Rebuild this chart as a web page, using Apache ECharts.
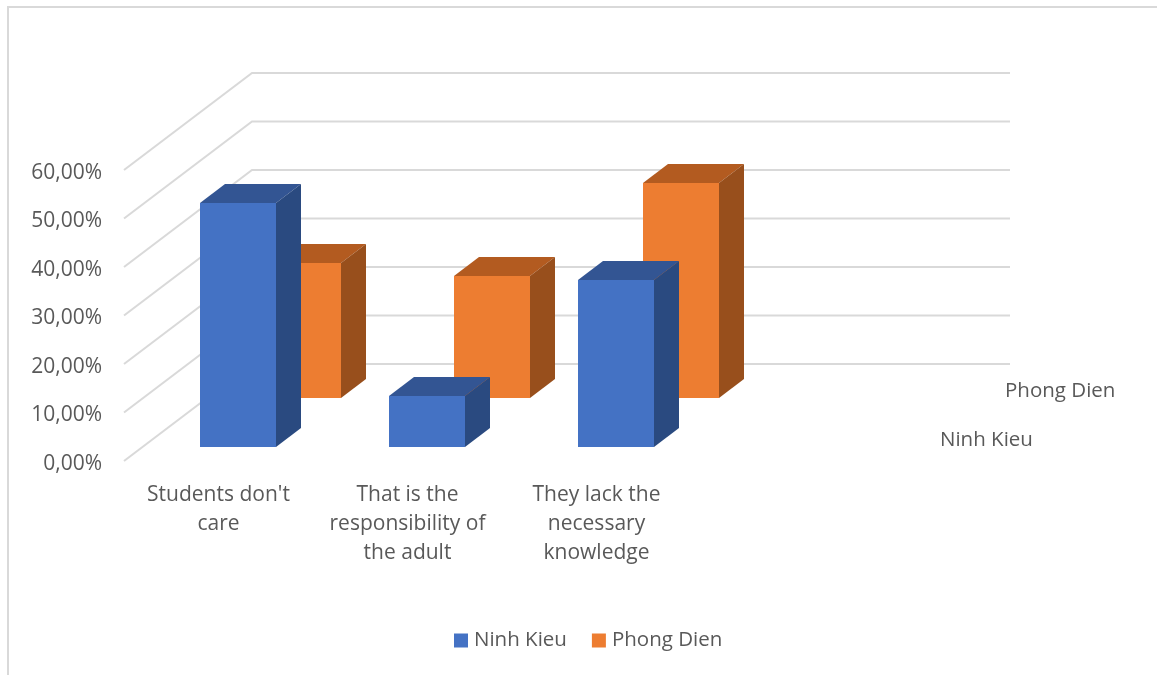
<!DOCTYPE html>
<html><head><meta charset="utf-8">
<style>html,body{margin:0;padding:0;background:#fff}#c{width:1157px;height:675px}</style>
<script src="https://cdn.jsdelivr.net/npm/echarts@6/dist/echarts.min.js"></script>
</head><body><div id="c"></div>
<script>
const categories = ["Students don't\ncare", "That is the\nresponsibility of\nthe adult", "They lack the\nnecessary\nknowledge", ""];
const ninhKieu = [50.3, 10.5, 34.4];
const phongDien = [27.8, 25.2, 44.3];
const yTicks = [0, 10, 20, 30, 40, 50, 60];

const FONT = '"Open Sans"', TXT = '#595959', GRID = '#d9d9d9';
const WALL = [128, -97], DEPTH = [25, -19], BAR_W = 76, BACK_W = 758;

function barRenderer(off, front, top, side) {
  return function (params, api) {
    const i = api.value(0), v = api.value(1);
    const pt = api.coord([i, v]), base = api.coord([i, 0]);
    const xl = Math.round(pt[0] + off[0]), xr = xl + BAR_W, yt = Math.round(pt[1] + off[1]), yb = Math.round(base[1] + off[1]);
    const dx = DEPTH[0], dy = DEPTH[1];
    return { type: 'group', children: [
      { type: 'polygon', shape: { points: [[xl, yt], [xr, yt], [xr + dx, yt + dy], [xl + dx, yt + dy]] }, style: { fill: top } },
      { type: 'polygon', shape: { points: [[xr, yt], [xr + dx, yt + dy], [xr + dx, yb + dy], [xr, yb]] }, style: { fill: side } },
      { type: 'rect', shape: { x: xl, y: yt, width: BAR_W, height: yb - yt }, style: { fill: front } }
    ] };
  };
}
const toData = arr => arr.map((v, i) => [i, v]);

const chart = echarts.init(document.getElementById('c'), null, { renderer: 'canvas' });
chart.setOption({
  animation: false,
  backgroundColor: '#fff',
  textStyle: { fontFamily: FONT },
  grid: { left: 124, top: 170, width: 756, height: 291, containLabel: false },
  xAxis: {
    type: 'category', data: categories,
    axisLine: { show: false }, axisTick: { show: false }, splitLine: { show: false },
    axisLabel: { color: TXT, fontSize: 21, fontFamily: FONT, margin: 20, lineHeight: 29, interval: 0, align: 'center' }
  },
  yAxis: {
    type: 'value', min: 0, max: 60, interval: 10,
    axisLine: { show: false }, axisTick: { show: false }, splitLine: { show: false },
    axisLabel: { color: TXT, fontSize: 21, fontFamily: FONT, margin: 22, verticalAlign: 'top', lineHeight: 6,
      formatter: v => v.toFixed(2).replace('.', ',') + '%' }
  },
  legend: {
    data: ['Ninh Kieu', 'Phong Dien'], left: 454, top: 630, padding: 0, orient: 'horizontal',
    icon: 'rect', itemWidth: 14, itemHeight: 14, itemGap: 25, selectedMode: false,
    textStyle: { color: TXT, fontSize: 20.5, fontFamily: FONT, padding: [0, 0, 0, 1] }
  },
  graphic: [
    { type: 'rect', silent: true, z: -1, shape: { x: 8, y: 7, width: 1400, height: 900 }, style: { fill: 'none', stroke: GRID, lineWidth: 2 } },
    { type: 'text', silent: true, left: 940, top: 430, style: { text: 'Ninh Kieu', fill: TXT, font: '20.5px ' + FONT } },
    { type: 'text', silent: true, left: 1005, top: 381, style: { text: 'Phong Dien', fill: TXT, font: '20.5px ' + FONT } }
  ],
  series: [
    {
      name: 'walls', type: 'custom', z: 1, silent: true, data: yTicks.map(v => [0, v]), encode: { x: 0, y: 1 },
      renderItem: function (params, api) {
        const y = api.coord([0, api.value(1)])[1];
        const cs = params.coordSys;
        return { type: 'polyline',
          shape: { points: [[cs.x, y], [cs.x + WALL[0], y + WALL[1]], [cs.x + BACK_W + WALL[0], y + WALL[1]]] },
          style: { stroke: GRID, lineWidth: 2, fill: 'none' } };
      }
    },
    { name: 'Phong Dien', type: 'custom', z: 2, silent: true, itemStyle: { color: '#ED7D31' }, data: toData(phongDien), encode: { x: 0, y: 1 },
      renderItem: barRenderer([46.5, -63], '#ED7D31', '#B35B20', '#984F1C') },
    { name: 'Ninh Kieu', type: 'custom', z: 3, silent: true, itemStyle: { color: '#4472C4' }, data: toData(ninhKieu), encode: { x: 0, y: 1 },
      renderItem: barRenderer([-18.5, -14], '#4472C4', '#335593', '#2A4A80') }
  ]
});
</script></body></html>
